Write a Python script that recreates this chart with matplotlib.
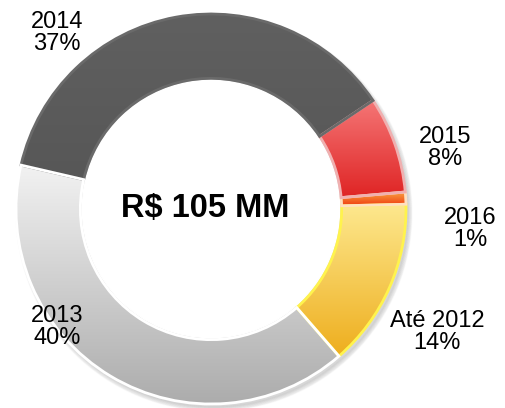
import numpy as np
import matplotlib.pyplot as plt
from matplotlib.colors import LinearSegmentedColormap

plt.rcParams['font.family'] = ['Liberation Sans', 'DejaVu Sans']

# dados do gráfico (sentido anti-horário a partir de "Até 2012")
labels = ['Até 2012', '2016', '2015', '2014', '2013']
shares = [14, 1, 8, 37, 40]
# cor clara (topo) -> cor escura (base) de cada fatia
grad_colors = [('#fde88e', '#eeae1e'), ('#f8a040', '#f03a10'),
               ('#f57676', '#df2424'), ('#606060', '#575757'),
               ('#f2f2f2', '#acacac')]
edges = ['#fff34d', '#ffe0c0', '#f0b0b0', '#6a6a6a', '#ffffff']
total_text = 'R$ 105 MM'

# posições dos rótulos (pixels, origem no topo)
label_pos = {
    'Até 2012': (437, 332),
    '2016': (470, 229),
    '2015': (445, 148),
    '2014': (57, 33),
    '2013': (57, 327),
}

W, H = 505, 408
fig = plt.figure(figsize=(W / 100, H / 100), dpi=100)
ax = fig.add_axes([0, 0, 1, 1])

cx, cy, r = 211, H - 209, 195

# sombra suave
for k in range(8):
    ax.add_patch(plt.Circle((cx + 3, cy - 4), r + 3 - k * 0.6, color='black',
                            alpha=0.02, zorder=0))
ax.add_patch(plt.Circle((cx, cy), r * 0.66, color='white', zorder=0.5))

wedges, _ = ax.pie(shares, colors=[c[0] for c in grad_colors], startangle=-49,
                   counterclock=True, center=(cx, cy), radius=r, frame=True,
                   wedgeprops=dict(width=r * 0.33, linewidth=2))

for w, (c0, c1), ec in zip(wedges, grad_colors, edges):
    w.set_edgecolor(ec)
    w.set_zorder(2)
    bb = w.get_path().get_extents()
    cmap = LinearSegmentedColormap.from_list('g', [c1, c0])
    grad = np.linspace(0, 1, 256).reshape(-1, 1)
    im = ax.imshow(grad, cmap=cmap, extent=(bb.x0, bb.x1, bb.y0, bb.y1),
                   origin='lower', aspect='auto', zorder=1.5, interpolation='bilinear')
    im.set_clip_path(w)
    w.set_facecolor('none')

ax.set_xlim(0, W)
ax.set_ylim(0, H)
ax.set_aspect('equal')
ax.axis('off')

for lab, val in zip(labels, shares):
    x, y = label_pos[lab]
    ax.text(x, H - y, f'{lab}\n{val}%', ha='center', va='center',
            fontsize=17, linespacing=1.0, color='black')

ax.text(cx - 6, cy, total_text, ha='center', va='center',
        fontsize=23.5, fontweight='bold', color='black')

fig.savefig('out.png', dpi=100)
